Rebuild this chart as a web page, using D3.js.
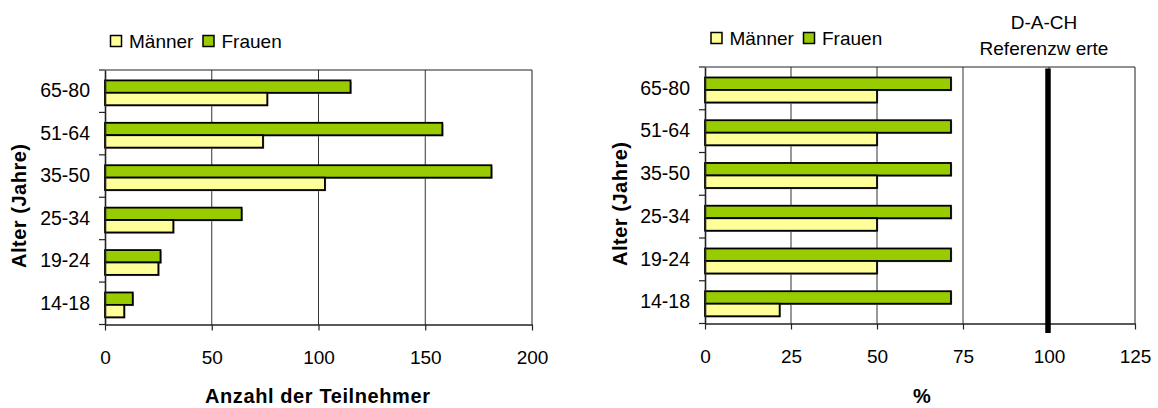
<!DOCTYPE html>
<html>
<head>
<meta charset="utf-8">
<script src="https://cdn.jsdelivr.net/npm/d3@7"></script>
<style>
  html, body { margin: 0; padding: 0; background: #fff; }
  svg { display: block; }
  text { font-family: "Liberation Sans", Arial, sans-serif; fill: #000; }
</style>
</head>
<body>
<svg id="chart" width="1158" height="408"></svg>
<script>
// ---- data ----
const categories = ["65-80", "51-64", "35-50", "25-34", "19-24", "14-18"];
const seriesNames = ["Männer", "Frauen"];
const leftMaenner = [76, 74, 103, 32, 25, 9];
const leftFrauen  = [115, 158, 181, 64, 26, 13];
const leftTicks = [0, 50, 100, 150, 200];
const rightMaenner = [50, 50, 50, 50, 50, 21.7];
const rightFrauen  = [71.5, 71.5, 71.5, 71.5, 71.5, 71.5];
const rightTicks = [0, 25, 50, 75, 100, 125];
const referenceValue = [100];
const referenceLabel = ["D-A-CH", "Referenzw erte"];
const yTitle = "Alter (Jahre)";
const leftXTitle = "Anzahl der Teilnehmer";
const rightXTitle = "%";

const colors = { "Männer": "#FFFF99", "Frauen": "#99CC00" };

const svg = d3.select("#chart");

function panel(opts) {
  const g = svg.append("g");
  const x = d3.scaleLinear().domain([0, opts.max]).range([opts.x0, opts.x1]);
  const y = d3.scaleBand().domain(categories).range([opts.y0, opts.y1]).padding(0);
  const bw = y.bandwidth();
  const sub = d3.scaleBand().domain(["Frauen", "Männer"]).range([0.245 * bw, 0.83 * bw]).padding(0);

  // gridlines
  g.append("g").selectAll("line")
    .data(opts.ticks.slice(1, -1))
    .join("line")
    .attr("x1", d => x(d)).attr("x2", d => x(d))
    .attr("y1", opts.y0).attr("y2", opts.y1)
    .attr("stroke", "#333").attr("stroke-width", 1);

  // frame top/right
  g.append("line").attr("x1", opts.x0).attr("x2", opts.x1).attr("y1", opts.y0).attr("y2", opts.y0)
    .attr("stroke", "#222").attr("stroke-width", 1.2);
  g.append("line").attr("x1", opts.x1).attr("x2", opts.x1).attr("y1", opts.y0).attr("y2", opts.y1)
    .attr("stroke", "#444").attr("stroke-width", 1.2);

  // bars
  const rows = categories.map((c, i) => ({ c, Männer: opts.m[i], Frauen: opts.f[i] }));
  const bars = [];
  rows.forEach(r => ["Frauen", "Männer"].forEach(s => bars.push({ c: r.c, s, v: r[s] })));
  // subtle shadow
  g.append("g").selectAll("rect")
    .data(bars)
    .join("rect")
    .attr("x", x(0) + 1.2)
    .attr("y", d => y(d.c) + sub(d.s) + 1.2)
    .attr("width", d => x(d.v) - x(0))
    .attr("height", sub.bandwidth())
    .attr("fill", "#9a9a9a");
  g.append("g").selectAll("rect")
    .data(bars)
    .join("rect")
    .attr("x", x(0))
    .attr("y", d => y(d.c) + sub(d.s))
    .attr("width", d => x(d.v) - x(0))
    .attr("height", sub.bandwidth())
    .attr("fill", d => colors[d.s])
    .attr("stroke", "#000")
    .attr("stroke-width", 1.8);

  // x axis
  const xa = g.append("g").attr("transform", `translate(0,${opts.y1})`)
    .call(d3.axisBottom(x).tickValues(opts.ticks).tickSize(6).tickSizeOuter(0).tickPadding(20));
  xa.select(".domain").attr("stroke", "#222").attr("stroke-width", 1.6);
  xa.selectAll(".tick line").attr("stroke", "#222").attr("stroke-width", 1.2);
  xa.selectAll(".tick text").style("font-size", "19px").style("font-family", "Liberation Sans, Arial, sans-serif").attr("fill", "#000");

  // y axis
  const ya = g.append("g").attr("transform", `translate(${opts.x0},0)`)
    .call(d3.axisLeft(y).tickSize(0).tickPadding(15).tickSizeOuter(0));
  ya.select(".domain").attr("stroke", "#222").attr("stroke-width", 1.6);
  ya.selectAll(".tick text").style("font-size", "19.5px").style("font-family", "Liberation Sans, Arial, sans-serif").attr("fill", "#000");
  // boundary ticks
  const bounds = d3.range(categories.length + 1).map(i => opts.y0 + i * y.step());
  g.append("g").selectAll("line").data(bounds).join("line")
    .attr("x1", opts.x0 - 6).attr("x2", opts.x0)
    .attr("y1", d => d).attr("y2", d => d)
    .attr("stroke", "#222").attr("stroke-width", 1.2);

  // y title
  g.append("text")
    .attr("transform", `translate(${opts.yTitleX},${opts.yTitleY}) rotate(-90)`)
    .attr("text-anchor", "middle")
    .attr("dy", "0.35em")
    .style("font-size", "20px").style("font-weight", "bold")
    .attr("textLength", 124).attr("lengthAdjust", "spacing")
    .text(yTitle);

  // x title
  const xt = g.append("text")
    .attr("x", (opts.x0 + opts.x1) / 2 + opts.xTitleDx)
    .attr("y", 403)
    .attr("text-anchor", "middle")
    .style("font-size", "20px").style("font-weight", "bold")
    .text(opts.xTitle);
  if (opts.xTitleLen) xt.attr("textLength", opts.xTitleLen).attr("lengthAdjust", "spacing");

  // legend
  const lg = g.append("g");
  let lx = opts.legendX;
  seriesNames.forEach((s, i) => {
    lg.append("rect").attr("x", lx).attr("y", opts.legendY - 6).attr("width", 11).attr("height", 11)
      .attr("fill", colors[s]).attr("stroke", "#000").attr("stroke-width", 1.5);
    lg.append("text").attr("x", lx + 18.5).attr("y", opts.legendY).attr("dy", "0.35em")
      .style("font-size", "19px").text(s);
    lx += 92.5;
  });

  return { g, x, y };
}

panel({ x0: 105, x1: 532, y0: 70, y1: 324.5, max: 200, ticks: leftTicks,
        m: leftMaenner, f: leftFrauen, yTitleX: 19, yTitleY: 206,
        xTitle: leftXTitle, xTitleDx: -1, xTitleLen: 225,
        legendX: 110.5, legendY: 41.5 });

const R = panel({ x0: 705, x1: 1135, y0: 67, y1: 323.5, max: 125, ticks: rightTicks,
        m: rightMaenner, f: rightFrauen, yTitleX: 620, yTitleY: 204,
        xTitle: rightXTitle, xTitleDx: 2, xTitleLen: null,
        legendX: 711, legendY: 38.5 });

// reference line
R.g.append("g").selectAll("line").data(referenceValue).join("line")
  .attr("x1", d => R.x(d) - 1).attr("x2", d => R.x(d) - 1)
  .attr("y1", 68.5).attr("y2", 333)
  .attr("stroke", "#000").attr("stroke-width", 5.5);

R.g.append("g").selectAll("text").data(referenceLabel).join("text")
  .attr("x", 1044)
  .attr("y", (d, i) => 28.5 + i * 26.5)
  .attr("text-anchor", "middle")
  .style("font-size", "19px")
  .text(d => d);
</script>
</body>
</html>
